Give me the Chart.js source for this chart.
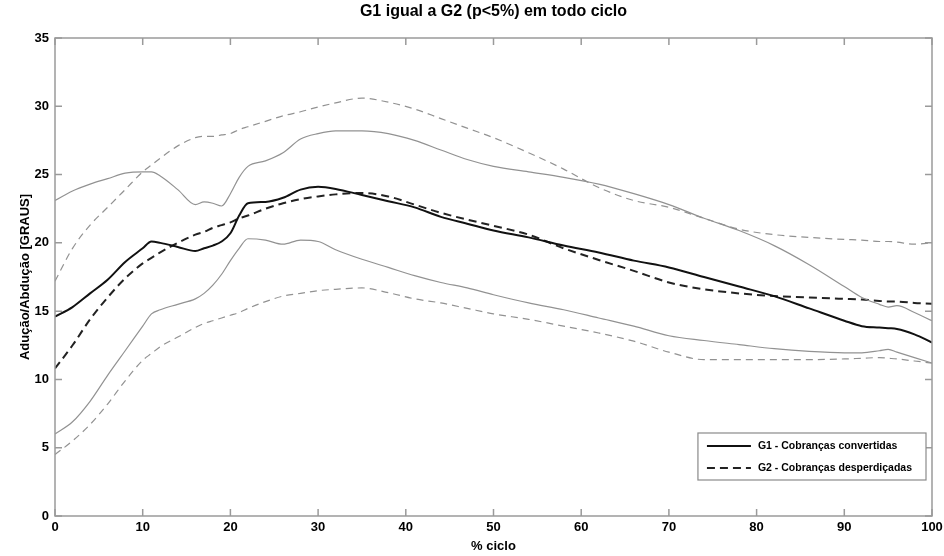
<!DOCTYPE html>
<html>
<head>
<meta charset="utf-8">
<script src="https://cdn.jsdelivr.net/npm/chart.js@4.4.1/dist/chart.umd.min.js"></script>
<style>
  html, body { margin: 0; padding: 0; background: #fff; }
</style>
</head>
<body>
<canvas id="ciclo" width="944" height="556"></canvas>
<script>
// % do ciclo (eixo x)
const ciclo = [0, 2, 4, 6, 8, 10, 11, 12, 14, 16, 17, 18, 19, 20, 21, 22, 24, 26, 28, 30, 32, 35,
  38, 41, 44, 47, 50, 54, 58, 62, 66, 70, 74, 78, 82, 86, 90, 92, 94, 95, 96, 98, 100];

// G1 - media e +/- desvio
const g1Media = [14.6, 15.3, 16.3, 17.3, 18.6, 19.6, 20.1, 20.0, 19.7, 19.4, 19.6, 19.8, 20.1, 20.7, 22.0,
  22.9, 23.0, 23.3, 23.9, 24.1, 23.95, 23.5, 23.05, 22.6, 21.9, 21.4, 20.9, 20.4, 19.8, 19.3, 18.7,
  18.2, 17.5, 16.8, 16.1, 15.2, 14.3, 13.9, 13.8, 13.75, 13.7, 13.3, 12.7];
const g1Sup = [23.1, 23.8, 24.3, 24.7, 25.1, 25.2, 25.2, 24.9, 23.9, 22.8, 23.0, 22.9, 22.7, 23.6, 24.8,
  25.6, 26.0, 26.6, 27.6, 28.0, 28.2, 28.2, 28.0, 27.5, 26.8, 26.1, 25.6, 25.2, 24.8, 24.3, 23.6,
  22.8, 21.8, 20.9, 19.8, 18.4, 16.8, 16.0, 15.5, 15.3, 15.4, 14.9, 14.3];
const g1Inf = [6.0, 6.9, 8.4, 10.3, 12.1, 13.9, 14.8, 15.1, 15.5, 15.9, 16.3, 16.9, 17.7, 18.7, 19.6,
  20.3, 20.2, 19.9, 20.2, 20.1, 19.5, 18.8, 18.2, 17.6, 17.1, 16.7, 16.2, 15.6, 15.1, 14.5, 13.9,
  13.2, 12.85, 12.55, 12.25, 12.05, 11.95, 11.95, 12.1, 12.2, 12.0, 11.6, 11.2];

// G2 - media e +/- desvio
const g2Media = [10.8, 12.5, 14.4, 16.0, 17.4, 18.5, 18.9, 19.3, 20.0, 20.6, 20.8, 21.1, 21.3, 21.5, 21.8,
  22.0, 22.5, 22.9, 23.2, 23.4, 23.55, 23.65, 23.4, 22.8, 22.2, 21.7, 21.25, 20.6, 19.6, 18.75, 17.95,
  17.1, 16.6, 16.3, 16.1, 16.0, 15.9, 15.85, 15.75, 15.7, 15.7, 15.6, 15.55];
const g2Sup = [17.2, 19.6, 21.3, 22.6, 23.9, 25.2, 25.7, 26.2, 27.1, 27.7, 27.8, 27.8, 27.9, 28.0, 28.3,
  28.5, 28.9, 29.3, 29.6, 29.95, 30.25, 30.6, 30.3, 29.8, 29.1, 28.4, 27.7, 26.6, 25.4, 24.05, 23.1,
  22.6, 21.8, 21.0, 20.6, 20.4, 20.25, 20.2, 20.1, 20.1, 20.05, 19.9, 20.0];
const g2Inf = [4.5, 5.5, 6.7, 8.2, 9.9, 11.4, 11.9, 12.4, 13.1, 13.8, 14.1, 14.3, 14.5, 14.7, 14.9,
  15.2, 15.7, 16.1, 16.3, 16.5, 16.6, 16.7, 16.35, 15.9, 15.6, 15.2, 14.8, 14.4, 13.9, 13.4, 12.8,
  12.0, 11.45, 11.45, 11.45, 11.45, 11.5, 11.55, 11.6, 11.55, 11.5, 11.35, 11.2];

const FONT = "'Liberation Sans', Arial, sans-serif";
const CINZA = '#929292';

const pontos = (arr) => ciclo.map((x, i) => ({ x: x, y: arr[i] }));

function serie(label, arr, cor, largura, tracejado, naLegenda) {
  return {
    label: label,
    data: pontos(arr),
    borderColor: cor,
    borderWidth: largura,
    borderDash: tracejado,
    pointRadius: 0,
    fill: false,
    cubicInterpolationMode: 'monotone',
    naLegenda: naLegenda
  };
}

// titulo centrado sobre a area do grafico
const tituloPlugin = {
  id: 'titulo',
  afterDraw(chart) {
    const { ctx, chartArea } = chart;
    ctx.save();
    ctx.fillStyle = '#000';
    ctx.font = 'bold 16px ' + FONT;
    ctx.textAlign = 'center';
    ctx.textBaseline = 'middle';
    ctx.fillText('G1 igual a G2 (p<5%) em todo ciclo', (chartArea.left + chartArea.right) / 2, 12);
    ctx.restore();
  }
};

// caixa estilo matlab com marcas para dentro
const caixaPlugin = {
  id: 'caixa',
  afterDatasetsDraw(chart) {
    const { ctx, chartArea: a, scales } = chart;
    ctx.save();
    ctx.strokeStyle = '#9a9a9a';
    ctx.lineWidth = 1.5;
    ctx.strokeRect(a.left, a.top, a.right - a.left, a.bottom - a.top);
    ctx.beginPath();
    scales.x.ticks.forEach((t) => {
      const px = scales.x.getPixelForValue(t.value);
      ctx.moveTo(px, a.bottom); ctx.lineTo(px, a.bottom - 7);
      ctx.moveTo(px, a.top); ctx.lineTo(px, a.top + 7);
    });
    scales.y.ticks.forEach((t) => {
      const py = scales.y.getPixelForValue(t.value);
      ctx.moveTo(a.left, py); ctx.lineTo(a.left + 7, py);
      ctx.moveTo(a.right, py); ctx.lineTo(a.right - 7, py);
    });
    ctx.stroke();
    ctx.restore();
  }
};

// legenda dentro do grafico, canto inferior direito
const legendaPlugin = {
  id: 'legendaDentro',
  afterDraw(chart) {
    const { ctx, chartArea: a } = chart;
    const itens = chart.data.datasets.filter((d) => d.naLegenda);
    ctx.save();
    ctx.font = 'bold 10.5px ' + FONT;
    const larguraTexto = Math.max(...itens.map((d) => ctx.measureText(d.label).width));
    const w = 9 + 44 + 7 + larguraTexto + 14;
    const h = 47;
    const x0 = a.right - 6 - w;
    const y0 = a.bottom - 36 - h;
    ctx.fillStyle = '#fff';
    ctx.fillRect(x0, y0, w, h);
    ctx.strokeStyle = '#8a8a8a';
    ctx.lineWidth = 1.2;
    ctx.strokeRect(x0, y0, w, h);
    itens.forEach((d, i) => {
      const y = y0 + 13 + i * 22;
      ctx.beginPath();
      ctx.strokeStyle = d.borderColor;
      ctx.lineWidth = d.borderWidth;
      ctx.setLineDash(d.borderDash || []);
      ctx.moveTo(x0 + 9, y);
      ctx.lineTo(x0 + 53, y);
      ctx.stroke();
      ctx.setLineDash([]);
      ctx.fillStyle = '#000';
      ctx.textAlign = 'left';
      ctx.textBaseline = 'middle';
      ctx.fillText(d.label, x0 + 60, y);
    });
    ctx.restore();
  }
};

new Chart(document.getElementById('ciclo'), {
  type: 'line',
  data: {
    datasets: [
      serie('G1 sup', g1Sup, CINZA, 1.2, [], false),
      serie('G1 inf', g1Inf, CINZA, 1.2, [], false),
      serie('G2 sup', g2Sup, CINZA, 1.2, [7, 5], false),
      serie('G2 inf', g2Inf, CINZA, 1.2, [7, 5], false),
      serie('G1 - Cobranças convertidas', g1Media, '#111', 2, [], true),
      serie('G2 - Cobranças desperdiçadas', g2Media, '#222', 2, [8, 5], true)
    ]
  },
  options: {
    responsive: false,
    animation: false,
    devicePixelRatio: 1,
    layout: { padding: { top: 38, right: 12, left: 0, bottom: 0 } },
    plugins: {
      legend: { display: false },
      tooltip: { enabled: false }
    },
    scales: {
      x: {
        type: 'linear',
        min: 0,
        max: 100,
        ticks: { stepSize: 10, color: '#000', font: { family: FONT, size: 13, weight: 'bold' }, padding: 4 },
        grid: { display: false, drawTicks: false, tickLength: 0 },
        border: { display: false },
        title: { display: true, text: '% ciclo', color: '#000', font: { family: FONT, size: 13, weight: 'bold' }, padding: { top: 0, bottom: 2 } },
        afterFit: (s) => { s.height = 40; s.paddingLeft = 0; s.paddingRight = 0; }
      },
      y: {
        min: 0,
        max: 35,
        ticks: { stepSize: 5, color: '#000', font: { family: FONT, size: 13, weight: 'bold' }, padding: 6 },
        grid: { display: false, drawTicks: false, tickLength: 0 },
        border: { display: false },
        title: { display: true, text: 'Adução/Abdução [GRAUS]', color: '#000', font: { family: FONT, size: 13, weight: 'bold' }, padding: { top: 18, bottom: 0 } },
        afterFit: (s) => { s.width = 55; s.paddingTop = 0; s.paddingBottom = 0; }
      }
    }
  },
  plugins: [caixaPlugin, tituloPlugin, legendaPlugin]
});
</script>
</body>
</html>
